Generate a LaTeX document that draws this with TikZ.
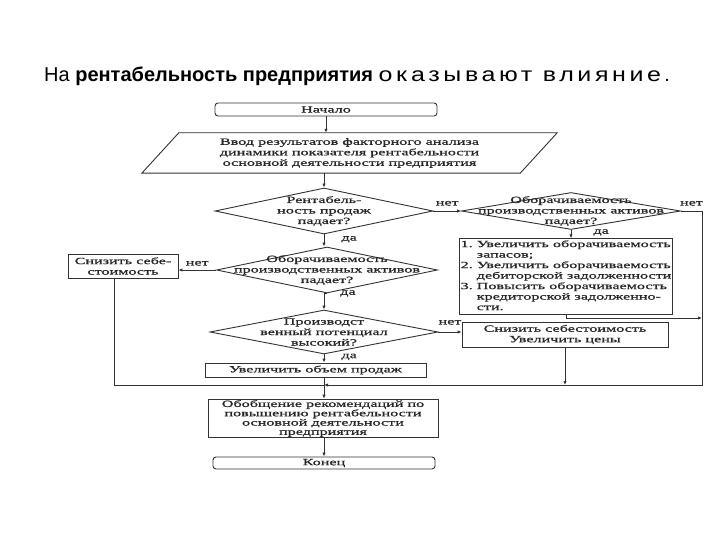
\documentclass[tikz,border=0pt]{standalone}
\usepackage{fontspec}
\setmainfont{Liberation Serif}
\newfontfamily\titlefont{Liberation Sans}
\newfontfamily\titlewide[FakeStretch=1.25,LetterSpace=18]{Liberation Sans}
\newfontfamily\chartfont[FakeStretch=1.7,FakeBold=1]{Liberation Serif}
\usetikzlibrary{arrows.meta,positioning,calc,shapes.geometric}
\definecolor{Ink}{HTML}{262626}
\definecolor{Frame}{HTML}{333333}
\tikzset{
  chart/.style={font=\chartfont\fontsize{9.5}{10.5}\selectfont,text=Ink},
  box/.style={chart,draw=Frame,fill=white,line width=.9pt,inner sep=1pt,align=center},
  term/.style={box,rounded corners=3pt,minimum width=222pt,minimum height=13pt},
  inbox/.style={chart,inner sep=0pt,align=center,minimum width=378pt,minimum height=40pt},
  decision/.style={diamond,draw=Frame,fill=white,line width=.9pt,inner sep=0pt},
  txt/.style={chart,inner sep=0pt,align=center},
  lbl/.style={chart,inner sep=0pt},
  flow/.style={-{Latex[length=4pt,width=3.4pt]},draw=Frame,line width=.9pt},
  plainline/.style={draw=Frame,line width=.9pt}
}
\begin{document}
\begin{tikzpicture}[x=1pt,y=-1pt]
  \useasboundingbox (0,0) rectangle (720,540);
  \node[anchor=base west,inner sep=0pt,font=\titlefont\fontsize{20}{24}\selectfont] (title) at (44,82)
    {На \textbf{рентабельность предприятия} {\titlewide оказывают влияние}\,.};

  \node[term] (start) at (326,109.5) {Начало};
  \node[inbox] (in) at (349.5,153) {Ввод результатов факторного анализа\\динамики показателя рентабельности\\основной деятельности предприятия};
  \draw[plainline] ([xshift=-18.5pt]in.south west) -- ([xshift=18.5pt]in.north west)
    -- ([xshift=18.5pt]in.north east) -- ([xshift=-18.5pt]in.south east) -- cycle;

  \node[decision,minimum width=218pt,minimum height=46pt,
    label={[txt]center:{Рентабель-\\ность продаж\\падает?}}] (d1) at (324,211) {};
  \node[decision,minimum width=221pt,minimum height=46pt,
    label={[txt]center:{Оборачиваемость\\производственных активов\\падает?}}] (d2) at (327,270) {};
  \node[decision,minimum width=219pt,minimum height=37pt,
    label={[txt]center:{Оборачиваемость\\производственных активов\\падает?}}] (d3) at (571,211) {};
  \node[decision,minimum width=228pt,minimum height=44pt,
    label={[txt]center:{Производст\\венный потенциал\\высокий?}}] (d4) at (324,332) {};

  \node[box,minimum width=110pt,minimum height=24pt] (sb) at (123,266) {Снизить себе-\\стоимость};
  \node[box,minimum width=212pt,minimum height=73pt,align=left] (list) at (566,276.5) {%
    \begin{tabular}{@{}l@{\hspace{4pt}}l@{}}
      1. & Увеличить оборачиваемость\\
         & запасов;\\
      2. & Увеличить оборачиваемость\\
         & дебиторской задолженности\\
      3. & Повысить оборачиваемость\\
         & кредиторской задолженно-\\
         & сти.
    \end{tabular}};
  \node[box,minimum width=206pt,minimum height=25pt] (cost) at (565,334.5) {Снизить себестоимость\\Увеличить цены};
  \node[box,minimum width=221pt,minimum height=14pt] (vol) at (315.5,370) {Увеличить объем продаж};
  \node[box,minimum width=230pt,minimum height=37pt,font=\chartfont\fontsize{9.5}{9.3}\selectfont] (gen) at (323,418.5)
    {Обобщение рекомендаций по\\повышению рентабельности\\основной деятельности\\предприятия};
  \node[term,minimum height=12pt] (end) at (324,463) {Конец};

  \coordinate (mL) at (114,385);
  \coordinate (mC) at (324,385);
  \coordinate (mR) at (702,385);
  \coordinate (lj) at (702,318);

  \draw[flow] (start.south) -- (start.south |- in.north);
  \draw[flow] (d1.north |- in.south) -- (d1.north);
  \draw[flow] (d1.south) -- node[lbl,anchor=west,xshift=17pt,pos=.4]{да} (d1.south |- d2.north);
  \draw[flow] (d2.south) -- node[lbl,anchor=west,xshift=14pt,pos=.4]{да} (d2.south -| d4.north) -- (d4.north);
  \draw[flow] (d4.south) -- node[lbl,anchor=west,xshift=17pt,pos=.3]{да} (d4.south |- vol.north);
  \draw[flow] (d4.south |- vol.south) -- (d4.south |- gen.north);
  \draw[flow] (gen.south -| end.north) -- (end.north);

  \draw[flow] (d1.east) -- node[lbl,above=5pt]{нет} (d1.east -| d3.west);
  \draw[flow] (d2.west) -- node[lbl,above=4pt]{нет} (d2.west -| sb.east);
  \draw[flow] (d3.south) -- node[lbl,anchor=west,xshift=22pt,pos=.3]{да} (d3.south |- list.north);
  \draw[flow] (d4.east) -- node[lbl,above=7pt]{нет} (d4.east -| cost.west);

  \draw[flow] (d3.east) -| node[lbl,pos=.25,above=5pt]{нет} (mR) -- (mC);
  \draw[flow] (list.south) |- (lj);
  \draw[plainline] (sb.south -| mL) -- (mL) -- (mC);
  \draw[flow] (cost.south) -- (cost.south |- mC);
\end{tikzpicture}
\end{document}
